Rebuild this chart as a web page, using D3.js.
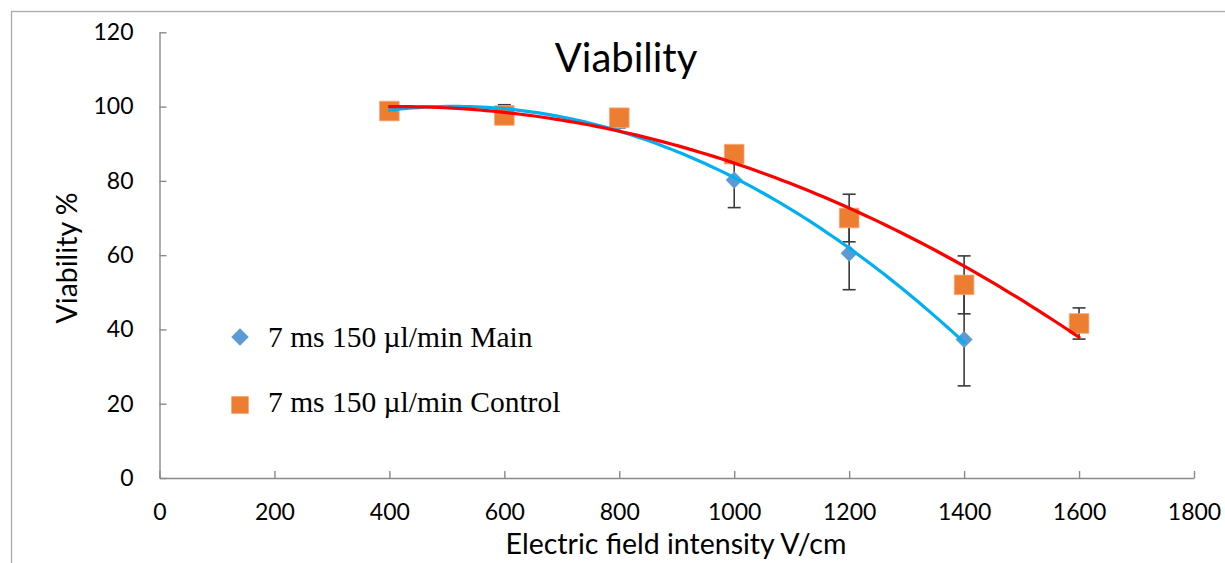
<!DOCTYPE html>
<html>
<head>
<meta charset="utf-8">
<script src="https://cdn.jsdelivr.net/npm/d3@7"></script>
<style>
  html, body { margin: 0; padding: 0; background: #ffffff; }
  svg { display: block; }
</style>
</head>
<body>
<svg id="chart" width="1225" height="563"></svg>
<script>
// Field intensity (V/cm) at which each sample was measured
const fieldMain = [400, 600, 800, 1000, 1200, 1400];
const fieldControl = [400, 600, 800, 1000, 1200, 1400, 1600];

// Viability (%) and its error for each series
const viabilityMain = [99.1, 98.2, 95.8, 80.2, 60.5, 37.3];
const errorMain = [1.9, 2.3, 1.5, 7.4, 9.8, 12.5];
const viabilityControl = [98.8, 97.6, 97.0, 87.2, 70.0, 52.0, 41.6];
const errorControl = [0.5, 0.5, 0.5, 2.0, 6.4, 7.8, 4.2];

const seriesNames = ["7 ms 150 \u00b5l/min Main", "7 ms 150 \u00b5l/min Control"];
const xTicks = [0, 200, 400, 600, 800, 1000, 1200, 1400, 1600, 1800];
const yTicks = [0, 20, 40, 60, 80, 100, 120];

const chartTitle = "Viability";
const xTitle = "Electric field intensity V/cm";
const yTitle = "Viability %";

const sansFont = "Lato, 'Open Sans', sans-serif";
const serifFont = "'Liberation Serif', 'Times New Roman', serif";

const svg = d3.select("#chart");

// Chart frame
svg.append("rect")
  .attr("x", 11.5).attr("y", 11.5)
  .attr("width", 1400).attr("height", 700)
  .attr("fill", "none").attr("stroke", "#a9a9a9").attr("stroke-width", 1.3);

const x = d3.scaleLinear().domain([0, 1800]).range([159.5, 1194]);
const y = d3.scaleLinear().domain([0, 120]).range([478, 32.3]);

// Axes with inward tick marks
const xAxis = svg.append("g")
  .attr("transform", `translate(0,${y(0)})`)
  .call(d3.axisBottom(x).tickValues(xTicks).tickFormat(d3.format("d"))
    .tickSizeInner(-7).tickSizeOuter(0));
xAxis.selectAll("text").attr("y", 42).attr("dy", 0);

const yAxis = svg.append("g")
  .attr("transform", `translate(${x(0)},0)`)
  .call(d3.axisLeft(y).tickValues(yTicks).tickFormat(d3.format("d"))
    .tickSizeInner(-7).tickSizeOuter(0).tickPadding(26));

[xAxis, yAxis].forEach(g => {
  g.select(".domain").attr("stroke", "#8a8a8a").attr("stroke-width", 1.4);
  g.selectAll(".tick line").attr("stroke", "#8a8a8a").attr("stroke-width", 1.4);
  g.selectAll("text").attr("fill", "#000").style("font-family", sansFont).style("font-size", "23px");
});

// Titles
svg.append("text")
  .attr("x", 626).attr("y", 72)
  .attr("text-anchor", "middle")
  .style("font-family", sansFont).style("font-size", "40px")
  .text(chartTitle);

svg.append("text")
  .attr("x", 676).attr("y", 554)
  .attr("text-anchor", "middle")
  .style("font-family", sansFont).style("font-size", "28.5px")
  .text(xTitle);

svg.append("text")
  .attr("transform", `translate(76.5,258) rotate(-90)`)
  .attr("text-anchor", "middle")
  .style("font-family", sansFont).style("font-size", "28.5px")
  .text(yTitle);

const mainData = fieldMain.map((f, i) => ({ x: f, y: viabilityMain[i], e: errorMain[i] }));
const controlData = fieldControl.map((f, i) => ({ x: f, y: viabilityControl[i], e: errorControl[i] }));

// Error bars
function drawErrorBars(data) {
  const g = svg.append("g").attr("stroke", "#3a3a3a").attr("stroke-width", 1.6);
  data.forEach(d => {
    const cx = x(d.x), top = y(d.y + d.e), bot = y(d.y - d.e);
    g.append("line").attr("x1", cx).attr("x2", cx).attr("y1", top).attr("y2", bot);
    g.append("line").attr("x1", cx - 6.5).attr("x2", cx + 6.5).attr("y1", top).attr("y2", top);
    g.append("line").attr("x1", cx - 6.5).attr("x2", cx + 6.5).attr("y1", bot).attr("y2", bot);
  });
}
drawErrorBars(mainData);
drawErrorBars(controlData);

// Markers
const diamond = d3.symbol().type(d3.symbolDiamond2).size(185);
const square = d3.symbol().type(d3.symbolSquare2).size(490);

svg.append("g").selectAll("path").data(mainData).join("path")
  .attr("d", diamond)
  .attr("transform", d => `translate(${x(d.x)},${y(d.y)})`)
  .attr("fill", "#5b9bd5");

svg.append("g").selectAll("path").data(controlData).join("path")
  .attr("d", square)
  .attr("transform", d => `translate(${x(d.x)},${y(d.y)})`)
  .attr("fill", "#ed7d31").attr("stroke", "#f3a878").attr("stroke-width", 0.8);

// Second-order polynomial trendline (least squares)
function quadFit(xs, ys) {
  const n = xs.length;
  let s = [0, 0, 0, 0, 0], t = [0, 0, 0];
  for (let i = 0; i < n; i++) {
    let p = 1;
    for (let k = 0; k <= 4; k++) { s[k] += p; if (k <= 2) t[k] += p * ys[i]; p *= xs[i]; }
  }
  const M = [[s[0], s[1], s[2], t[0]], [s[1], s[2], s[3], t[1]], [s[2], s[3], s[4], t[2]]];
  for (let c = 0; c < 3; c++) {
    for (let r = c + 1; r < 3; r++) {
      const f = M[r][c] / M[c][c];
      for (let k = c; k < 4; k++) M[r][k] -= f * M[c][k];
    }
  }
  const coef = [0, 0, 0];
  for (let r = 2; r >= 0; r--) {
    let v = M[r][3];
    for (let k = r + 1; k < 3; k++) v -= M[r][k] * coef[k];
    coef[r] = v / M[r][r];
  }
  return v => coef[0] + coef[1] * v + coef[2] * v * v;
}

function drawTrend(xs, ys, color) {
  const f = quadFit(xs, ys);
  const lo = d3.min(xs), hi = d3.max(xs);
  const pts = d3.range(0, 101).map(i => lo + (hi - lo) * i / 100);
  svg.append("path")
    .datum(pts)
    .attr("fill", "none")
    .attr("stroke", color)
    .attr("stroke-width", 3.2)
    .attr("stroke-linecap", "round")
    .attr("d", d3.line().x(v => x(v)).y(v => y(f(v))));
}
drawTrend(fieldMain, viabilityMain, "#00b0f0");
drawTrend(fieldControl, viabilityControl, "#ff0000");

// Legend
const legend = svg.append("g");
legend.append("path")
  .attr("d", d3.symbol().type(d3.symbolDiamond2).size(195))
  .attr("transform", "translate(240,337)")
  .attr("fill", "#5b9bd5");
legend.append("path")
  .attr("d", d3.symbol().type(d3.symbolSquare2).size(380))
  .attr("transform", "translate(240,405)")
  .attr("fill", "#ed7d31");
legend.selectAll("text").data(seriesNames).join("text")
  .attr("x", 268)
  .attr("y", (d, i) => i === 0 ? 346.5 : 411.5)
  .style("font-family", serifFont).style("font-size", "29.5px")
  .attr("fill", "#000")
  .text(d => d);
</script>
</body>
</html>
